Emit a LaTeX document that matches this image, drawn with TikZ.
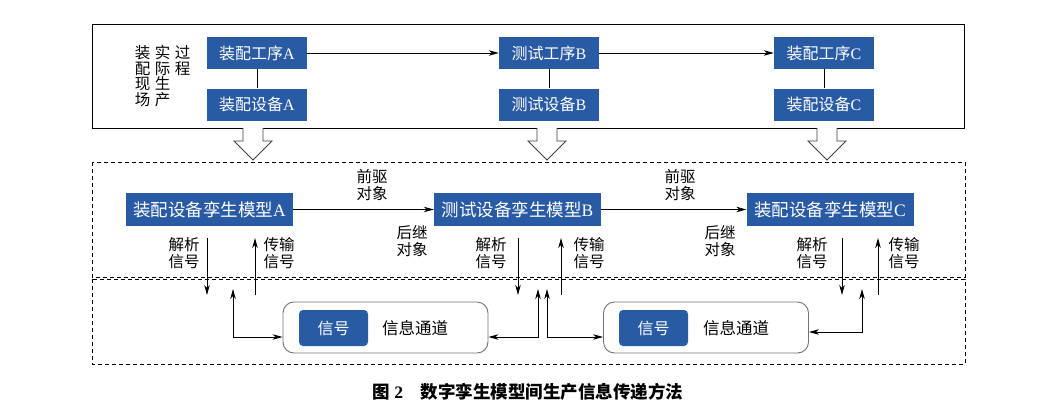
\documentclass[tikz,border=0pt]{standalone}
\usepackage{fontspec}
\setmainfont{Liberation Serif}
\newfontfamily\cjk{Noto Sans CJK SC}
\usetikzlibrary{arrows.meta}
\definecolor{zblue}{RGB}{41,91,164}
\tikzset{
  proc/.style={fill=zblue, text=white, inner sep=0pt, minimum width=100pt, minimum height=32pt, font=\cjk\fontsize{16}{16}\selectfont},
  twin/.style={proc, minimum width=167pt, minimum height=33pt, font=\cjk\fontsize{17.5}{17.5}\selectfont},
  chan/.style={draw=black!55, line width=0.9pt, rounded corners=11pt, minimum width=205pt, minimum height=51pt},
  sigbox/.style={fill=zblue, text=white, rounded corners=4pt, inner sep=0pt, minimum width=69pt, minimum height=36pt, font=\cjk\fontsize{16}{16}\selectfont},
  lab/.style={align=center, inner sep=0pt, font=\cjk\fontsize{15.5}{17}\selectfont},
  vtext/.style={align=center, inner sep=0pt, anchor=north, font=\cjk\fontsize{15.5}{15.5}\selectfont},
  link/.style={line width=0.9pt, -{Stealth[length=10pt,width=5.5pt,inset=3pt]}},
  dlink/.style={line width=0.9pt, {Stealth[length=10pt,width=5.5pt,inset=3pt]}-{Stealth[length=10pt,width=5.5pt,inset=3pt]}},
  hollow/.style={draw=black!75, fill=white, line width=0.9pt},
  frame/.style={line width=1pt},
  dashframe/.style={line width=0.9pt, dash pattern=on 4pt off 3pt}
}

\begin{document}
\begin{tikzpicture}[x=1pt,y=-1pt]
\useasboundingbox (0,0) rectangle (1062,413);

% assembly site
\draw[frame] (92,24) rectangle (964,128);
\node[vtext] (v1) at (142.5,45.5) {装\\配\\现\\场};
\node[vtext] (v2) at (162.5,45.5) {实\\际\\生\\产};
\node[vtext] (v3) at (182.5,45.5) {过\\程};

\node[proc] (procA) at (257,53) {装配工序{\rmfamily A}};
\node[proc] (devA) at (257,104.5) {装配设备{\rmfamily A}};
\node[proc] (procB) at (549,53) {测试工序{\rmfamily B}};
\node[proc] (devB) at (549,104.5) {测试设备{\rmfamily B}};
\node[proc] (procC) at (824,53) {装配工序{\rmfamily C}};
\node[proc] (devC) at (824,104.5) {装配设备{\rmfamily C}};
\draw[frame] (procA) -- (devA);
\draw[frame] (procB) -- (devB);
\draw[frame] (procC) -- (devC);
\draw[link] (procA) -- (procB);
\draw[link] (procB) -- (procC);

% mapping arrows
\foreach \x in {253,547,827}
  \draw[hollow] (\x-10,128) -- (\x-10,141) -- (\x-19,141) -- (\x,160) -- (\x+19,141) -- (\x+10,141) -- (\x+10,128);

% twin layer
\draw[dashframe] (92,162) rectangle (965,277);
\draw[dashframe] (92,279) rectangle (965,364);
\node[twin] (twinA) at (209.5,209.5) {装配设备孪生模型{\rmfamily A}};
\node[twin] (twinB) at (517.5,209.5) {测试设备孪生模型{\rmfamily B}};
\node[twin] (twinC) at (830,209.5) {装配设备孪生模型{\rmfamily C}};
\draw[link] (twinA) -- (twinB);
\draw[link] (twinB) -- (twinC);
\node[lab] (preAB) at (372,185.5) {前驱\\对象};
\node[lab] (sucAB) at (412,241.5) {后继\\对象};
\node[lab] (preBC) at (680,185.5) {前驱\\对象};
\node[lab] (sucBC) at (720,241.5) {后继\\对象};

% signals in and out
\foreach \n/\d/\u/\ld/\lu in {A/207/255/184/279, B/518/561/491/589, C/842/878/812/904}{
  \coordinate (dtop\n) at (\d,238);
  \coordinate (dbot\n) at (\d,295);
  \coordinate (utop\n) at (\u,238);
  \coordinate (ubot\n) at (\u,295);
  \draw[link] (dtop\n) -- (dbot\n);
  \draw[link] (ubot\n) -- (utop\n);
  \node[lab] (parse\n) at (\ld,253) {解析\\信号};
  \node[lab] (send\n) at (\lu,253) {传输\\信号};
}

% information channels
\node[chan] (chan1) at (385.5,327.5) {};
\node[sigbox] (sig1) at (333.5,328) {信号};
\node[lab, font=\cjk\fontsize{16.5}{16.5}\selectfont] (info1) at (415,328) {信息通道};
\node[chan] (chan2) at (706,327.5) {};
\node[sigbox] (sig2) at (653.5,328) {信号};
\node[lab, font=\cjk\fontsize{16.5}{16.5}\selectfont] (info2) at (736,328) {信息通道};

\coordinate (tipA) at (233,289);
\coordinate (tipB1) at (538,289);
\coordinate (tipB2) at (547,289);
\coordinate (tipC) at (862,289);
\draw[dlink] (tipA) |- ([yshift=-9.5pt]chan1.west);
\draw[dlink] (tipB1) |- ([yshift=-9.5pt]chan1.east);
\draw[dlink] (tipB2) |- ([yshift=-9.5pt]chan2.west);
\draw[dlink] (tipC) |- ([yshift=-4.5pt]chan2.east);

% caption
\node[font=\cjk\bfseries\fontsize{17.5}{17.5}\selectfont] (cap) at (528,392) {图 {\rmfamily\bfseries 2}\quad 数字孪生模型间生产信息传递方法};
\end{tikzpicture}
\end{document}
